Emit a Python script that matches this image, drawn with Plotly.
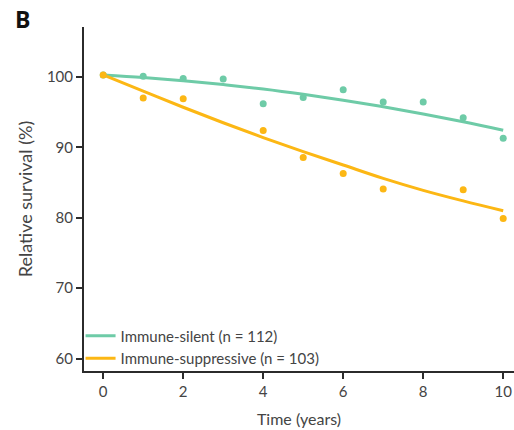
import plotly.graph_objects as go

# Observed data points
years = [0, 1, 2, 3, 4, 5, 6, 7, 8, 9, 10]
silent_pts = [100.3, 100.1, 99.8, 99.7, 96.2, 97.1, 98.2, 96.45, 96.45, 94.2, 91.3]
supp_years = [0, 1, 2, 4, 5, 6, 7, 9, 10]
supp_pts = [100.3, 97.0, 96.9, 92.4, 88.55, 86.3, 84.1, 84.0, 79.9]

# Fitted curves
fit_years = [0, 1, 2, 3, 4, 5, 6, 7, 8, 9, 10]
silent_fit = [100.3, 99.94, 99.48, 98.93, 98.29, 97.54, 96.7, 95.77, 94.75, 93.64, 92.44]
supp_fit = [100.3, 98.0, 95.7, 93.5, 91.4, 89.4, 87.5, 85.6, 83.9, 82.4, 81.0]

labels = ["Immune-silent (n = 112)", "Immune-suppressive (n = 103)"]
x_ticks = [0, 2, 4, 6, 8, 10]
y_ticks = [60, 70, 80, 90, 100]

GREEN = "#6ECBA7"
ORANGE = "#FCB714"
FONT = "Lato, 'Open Sans', sans-serif"
TXT = "#444444"

fig = go.Figure()
fig.add_trace(go.Scatter(x=fit_years, y=silent_fit, mode="lines", line=dict(color=GREEN, width=3, shape="spline"),
                         name=labels[0]))
fig.add_trace(go.Scatter(x=fit_years, y=supp_fit, mode="lines", line=dict(color=ORANGE, width=3, shape="spline"),
                         name=labels[1]))
fig.add_trace(go.Scatter(x=years, y=silent_pts, mode="markers", marker=dict(color=GREEN, size=7),
                         showlegend=False, cliponaxis=False))
fig.add_trace(go.Scatter(x=supp_years, y=supp_pts, mode="markers", marker=dict(color=ORANGE, size=7),
                         showlegend=False, cliponaxis=False))

axis_common = dict(showgrid=False, zeroline=False, showline=True, linecolor="#2b2b2b", linewidth=2,
                   ticks="outside", ticklen=6, tickwidth=2, tickcolor="#2b2b2b", automargin=False,
                   tickfont=dict(family=FONT, size=15, color=TXT))

fig.update_xaxes(range=[-0.48, 10.27], tickvals=x_ticks,
                 title=dict(text="Time (years)", font=dict(family=FONT, size=16, color=TXT), standoff=15),
                 **axis_common)
fig.update_yaxes(range=[58.24, 107.1], tickvals=y_ticks,
                 title=dict(text="Relative survival (%)", font=dict(family=FONT, size=18, color=TXT), standoff=10),
                 **axis_common)

fig.update_layout(
    width=514, height=430,
    margin=dict(l=84, r=0, t=27, b=59),
    plot_bgcolor="white", paper_bgcolor="white",
    legend=dict(x=-0.008, y=-0.01, xanchor="left", yanchor="bottom", bgcolor="rgba(0,0,0,0)",
                font=dict(family=FONT, size=15, color=TXT), tracegroupgap=0),
    annotations=[dict(text="<b>B</b>", xref="paper", yref="paper", x=-0.165, y=1.075, xanchor="left",
                      yanchor="top", showarrow=False, font=dict(family="Open Sans", size=23, color="#111"))],
)

fig.write_html("out.html", config={"displayModeBar": False},
               post_script="document.body.style.margin='0';document.body.style.overflow='hidden';")
